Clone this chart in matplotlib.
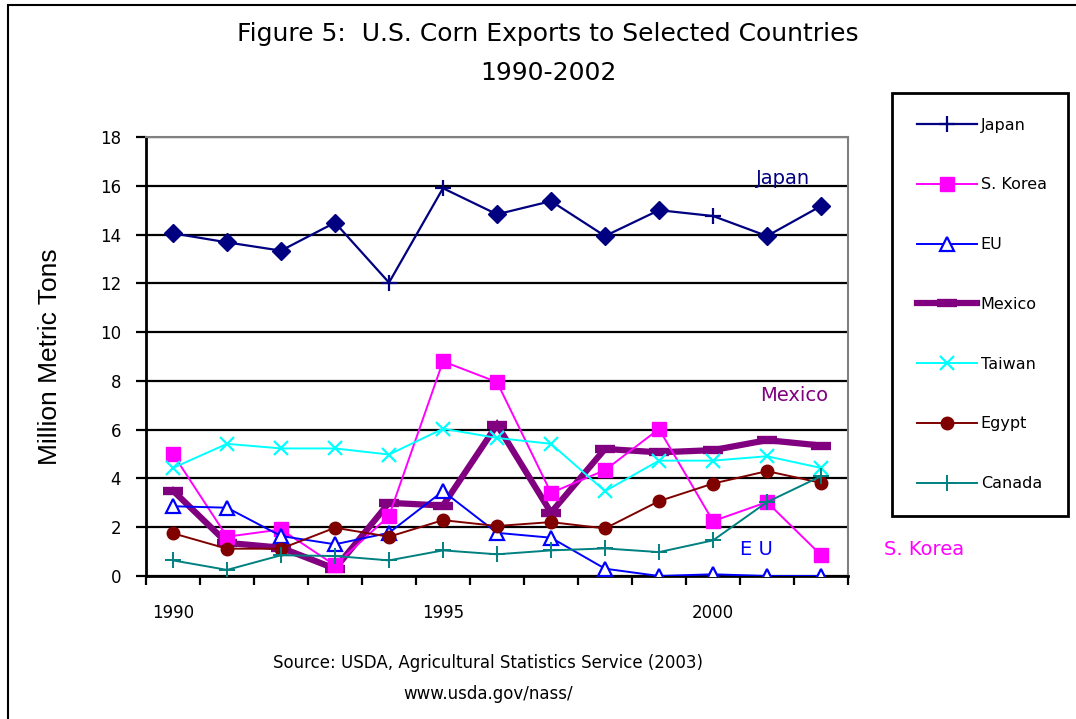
import numpy as np
import matplotlib.pyplot as plt
from matplotlib.patches import Rectangle

plt.rcParams['font.family'] = ['DejaVu Sans']

years = list(range(1990, 2003))
japan = [14.05, 13.68, 13.34, 14.49, 12.03, 15.9, 14.83, 15.37, 13.94, 15.0, 14.76, 13.94, 15.17]
japan_diamond = [True, True, True, True, False, False, True, True, True, True, False, True, True]
s_korea = [5.0, 1.61, 1.91, 0.44, 2.46, 8.8, 7.95, 3.41, 4.34, 6.03, 2.25, 3.03, 0.86]
eu = [2.86, 2.8, 1.64, 1.3, 1.77, 3.48, 1.77, 1.57, 0.3, 0.0, 0.07, 0.0, 0.0]
mexico = [3.5, 1.36, 1.16, 0.3, 3.0, 2.89, 6.2, 2.6, 5.21, 5.07, 5.16, 5.57, 5.35]
taiwan = [4.43, 5.42, 5.23, 5.23, 4.98, 6.04, 5.66, 5.42, 3.48, 4.73, 4.73, 4.91, 4.43]
egypt = [1.75, 1.12, 1.12, 1.98, 1.61, 2.29, 2.05, 2.21, 1.95, 3.07, 3.79, 4.3, 3.82]
canada = [0.64, 0.25, 0.85, 0.82, 0.64, 1.05, 0.89, 1.05, 1.13, 0.98, 1.46, 3.03, 4.09]

x = np.arange(len(years))

fig = plt.figure(figsize=(10.76, 7.19), dpi=100)
ax = fig.add_axes([146 / 1076, 1 - 576 / 719, 702 / 1076, 439 / 719])

# outer frame of the chart
fig.patches.append(Rectangle((8 / 1076, -0.02), 1.2, 1.02 - 5 / 719, transform=fig.transFigure,
                             fill=False, edgecolor='black', linewidth=1.5, zorder=0))

ax.yaxis.grid(True, color='black', linewidth=1.6, zorder=0)
ax.set_axisbelow(True)

ax.plot(x, japan, color='#000080', lw=1.6, marker='+', ms=11, mew=1.6, label='Japan', zorder=5)
xd = [xi for xi, d in zip(x, japan_diamond) if d]
yd = [yi for yi, d in zip(japan, japan_diamond) if d]
ax.plot(xd, yd, ls='none', marker='D', ms=9, color='#000080', zorder=6)

ax.plot(x, s_korea, color='#FF00FF', lw=1.4, marker='s', ms=10, label='S. Korea', zorder=4)
ax.plot(x, eu, color='#0000FF', lw=1.4, marker='^', ms=10, mfc='white', mec='#0000FF',
        mew=1.6, label='EU', zorder=4)
ax.plot(x, mexico, color='#800080', lw=4.5, marker='_', ms=14, mew=6, label='Mexico',
        solid_joinstyle='miter', zorder=3)
ax.plot(x, taiwan, color='#00FFFF', lw=1.4, marker='x', ms=10, mew=1.6, label='Taiwan', zorder=4)
ax.plot(x, egypt, color='#800000', lw=1.4, marker='o', ms=9, label='Egypt', zorder=4)
ax.plot(x, canada, color='#008080', lw=1.4, marker='+', ms=11, mew=1.4, label='Canada', zorder=4)

ax.set_xlim(-0.5, len(years) - 0.5)
ax.set_ylim(0, 18)
ax.set_yticks(np.arange(0, 19, 2))
ax.set_xticks(x[::5])
ax.set_xticklabels([str(y) for y in years[::5]])
ax.set_xticks(np.arange(-0.5, len(years), 1), minor=True)
ax.tick_params(axis='x', which='major', length=0, pad=20, labelsize=12)
ax.tick_params(axis='x', which='minor', length=6.5, width=1.6, direction='out')
ax.tick_params(axis='y', length=7, width=1.6, direction='out', pad=11, labelsize=12)

for s in ['left', 'bottom']:
    ax.spines[s].set_color('black')
    ax.spines[s].set_linewidth(2)
for s in ['top', 'right']:
    ax.spines[s].set_color('#808080')
    ax.spines[s].set_linewidth(1.5)

ax.set_ylabel('Million Metric Tons', fontsize=19, family='Liberation Sans')
ax.yaxis.set_label_coords(-0.12, 0.5)

# series labels on the plot
ax.text(11.3, 16.3, 'Japan', color='#000080', fontsize=14, ha='center', va='center')
ax.text(11.5, 7.4, 'Mexico', color='#800080', fontsize=14, ha='center', va='center')
ax.text(10.8, 1.07, 'E U', color='#0000FF', fontsize=14, ha='center', va='center')
ax.text(13.9, 1.07, 'S. Korea', color='#FF00FF', fontsize=14, ha='center', va='center',
        clip_on=False)

fig.text(548 / 1076, 1 - 34 / 719, 'Figure 5:  U.S. Corn Exports to Selected Countries',
         fontsize=18, ha='center', va='center')
fig.text(548 / 1076, 1 - 73 / 719, '1990-2002', fontsize=18, ha='center', va='center')
fig.text(488 / 1076, 1 - 663 / 719, 'Source: USDA, Agricultural Statistics Service (2003)',
         fontsize=12, ha='center', va='center')
fig.text(488 / 1076, 1 - 694 / 719, 'www.usda.gov/nass/', fontsize=12, ha='center', va='center')

leg = ax.legend(loc='upper left', bbox_to_anchor=(892 / 1076, 1 - 93 / 719 - 0.01, 176 / 1076, 0.01),
                bbox_transform=fig.transFigure, mode='expand', fontsize=11.5,
                frameon=True, fancybox=False, edgecolor='black', framealpha=1,
                handlelength=3.8, handletextpad=0.2, labelspacing=2.8, borderpad=1.55,
                borderaxespad=0)
leg.get_frame().set_linewidth(2)

fig.savefig('out.png', dpi=100)
